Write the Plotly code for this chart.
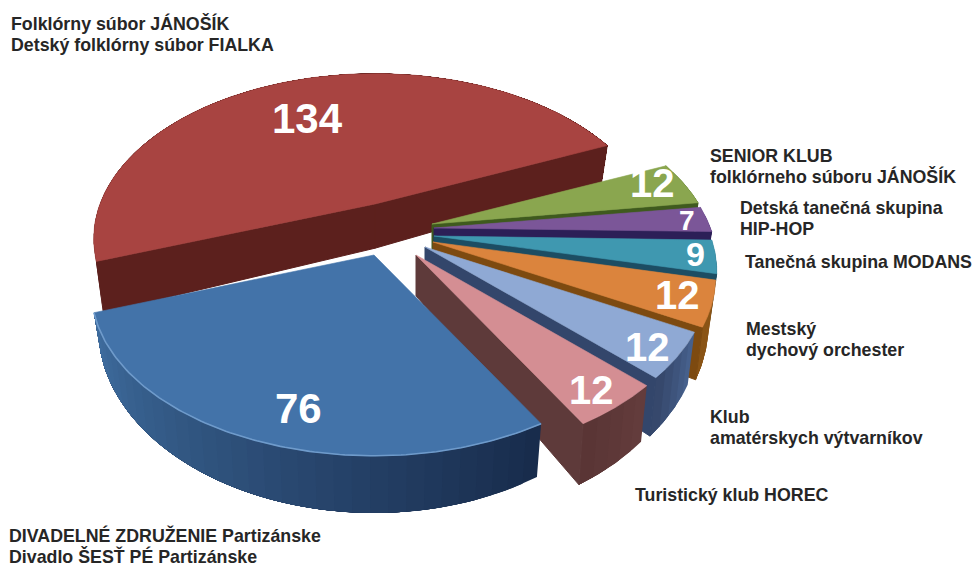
import numpy as np
import plotly.graph_objects as go

# ---- data (clockwise from the green slice) ----
categories = [
    ["SENIOR KLUB", "folklórneho súboru JÁNOŠÍK"],
    ["Detská tanečná skupina", "HIP-HOP"],
    ["Tanečná skupina MODANS"],
    ["Mestský", "dychový orchester"],
    ["Klub", "amatérskych výtvarníkov"],
    ["Turistický klub HOREC"],
    ["DIVADELNÉ ZDRUŽENIE Partizánske", "Divadlo ŠESŤ PÉ Partizánske"],
    ["Folklórny súbor JÁNOŠÍK", "Detský folklórny súbor FIALKA"],
]
values = [12, 7, 9, 12, 12, 12, 76, 134]

# ---- styles ----
top_colors = ["#8aa64f", "#7b5698", "#3f98b0", "#db843d", "#8fa9d4", "#d48e93", "#4373a9", "#a84441"]
side_colors = ["#3f5a1e", "#2c1f57", "#1c4d63", "#7d4a10", "#33466b", "#5e3a3a", "#1d3557", "#5c201d"]
rim_start = ["#4f6a26", "#3a2a66", "#24586e", "#8a5415", "#46608c", "#633c3c", "#182c4c", "#5c201d"]
rim_end = ["#4f6a26", "#3a2a66", "#24586e", "#8a5415", "#36486c", "#5a3535", "#3f6d9f", "#5c201d"]
centers = [(432, 224), (434, 228), (434, 236), (433, 242), (425, 247), (416, 255), (374, 255), (375, 204)]
radius_scale = [0.97, 0.97, 0.97, 0.97, 0.97, 0.97, 0.97, 0.965]
depth_scale = [1.25, 1.25, 1.25, 1.25, 1.25, 1.2, 1.05, 1.3]
start_angle = -23.7
PERSP, RX, RY, DEPTH, INSET = 0.21, 285.0, 163.5, 34.0, 0.975

value_pos = [(652, 183, 40), (687, 220, 28), (695, 254, 34), (677, 295, 40),
             (647, 347, 40), (591, 390, 40), (298, 408, 42), (307, 118, 42)]
label_pos = [[(708, 156), (708, 176)], [(738, 208), (738, 229)], [(743, 262)],
             [(744, 329), (744, 350)], [(708, 417), (708, 438)], [(633, 495)],
             [(7, 535), (7, 556)], [(9, 23), (9, 45)]]


def project(ang, center, scale, rad=1.0, bottom=False, depth=1.0):
    a = np.radians(ang)
    X, Y = rad * np.cos(a), rad * np.sin(a)
    s = 1 / (1 - PERSP * Y)
    x = RX * scale * X * s
    y = RY * scale * Y * s
    if bottom:
        x = x * INSET
        y = y + DEPTH * depth * s ** 2
    return center[0] + x, center[1] + y


def mix(c1, c2, t):
    a = [int(c1[i:i + 2], 16) for i in (1, 3, 5)]
    b = [int(c2[i:i + 2], 16) for i in (1, 3, 5)]
    return "#" + "".join(f"{round(p + (q - p) * t):02x}" for p, q in zip(a, b))


fig = go.Figure()


def poly(xs, ys, color, lw=0.6):
    fig.add_trace(go.Scatter(x=list(xs), y=list(ys), mode="lines", fill="toself",
                             fillcolor=color, line=dict(color=color, width=lw),
                             hoverinfo="skip", showlegend=False))


spans = np.array(values) / sum(values) * 360
ends = start_angle + np.cumsum(spans)
starts = ends - spans
# back-to-front: red first, then the small slices clockwise, blue last
order = [7, 0, 1, 2, 3, 4, 5, 6]
for i in order:
    c, sc, d = centers[i], radius_scale[i], depth_scale[i]
    t0, t1 = starts[i], ends[i]
    # outer wall, shaded along the arc: each band is painted over the previous one,
    # running on to the arc's end, so no seams show between bands
    n = max(3, int(spans[i] / 3))
    edge = np.linspace(t0, t1, n + 1)
    for j in range(n):
        seg = np.linspace(edge[j], t1, 60)
        x1, y1 = project(seg, c, sc)
        x2, y2 = project(seg[::-1], c, sc, bottom=True, depth=d)
        poly(np.r_[x1, x2, x1[0]], np.r_[y1, y2, y1[0]],
             mix(rim_start[i], rim_end[i], j / max(1, n - 1)), lw=0)
    # cut walls, only those that face the viewer
    for ang, normal in ((t0, t0 - 90), (t1, t1 + 90)):
        if np.sin(np.radians(normal)) <= 0:
            continue
        ax, ay = project(ang, c, sc, rad=0.0)
        bx, by = project(ang, c, sc, rad=0.0, bottom=True, depth=d)
        ox, oy = project(ang, c, sc)
        px, py = project(ang, c, sc, bottom=True, depth=d)
        poly([ax, ox, px, bx, ax], [ay, oy, py, by, ay], side_colors[i], lw=1)
    # top face
    arc = np.linspace(t0, t1, 120)
    x, y = project(arc, c, sc)
    poly(np.r_[c[0], x, c[0]], np.r_[c[1], y, c[1]], top_colors[i])
    # bevel highlight along the big slice's front edge
    if i == 6:
        fig.add_trace(go.Scatter(x=x, y=y, mode="lines", hoverinfo="skip", showlegend=False,
                                 line=dict(color="#6f9bcb", width=1.6)))

ann = []
for i, v in enumerate(values):
    vx, vy, vs = value_pos[i]
    ann.append(dict(x=vx, y=vy, text=str(v), showarrow=False, xanchor="center", yanchor="middle",
                    font=dict(family="Liberation Sans", size=vs, color="white", weight=700)))
    for line, (lx, ly) in zip(categories[i], label_pos[i]):
        ann.append(dict(x=lx, y=ly, text=line, showarrow=False, xanchor="left", yanchor="middle",
                        font=dict(family="Liberation Sans", size=17.8, color="#262626", weight=700)))

fig.update_layout(
    width=975, height=568, margin=dict(l=0, r=0, t=0, b=0),
    paper_bgcolor="white", plot_bgcolor="white", showlegend=False, annotations=ann,
    xaxis=dict(range=[0, 975], visible=False, fixedrange=True),
    yaxis=dict(range=[568, 0], visible=False, fixedrange=True),
)
fig.write_html("out.html", config=dict(displayModeBar=False),
               post_script="document.body.style.margin='0';")
